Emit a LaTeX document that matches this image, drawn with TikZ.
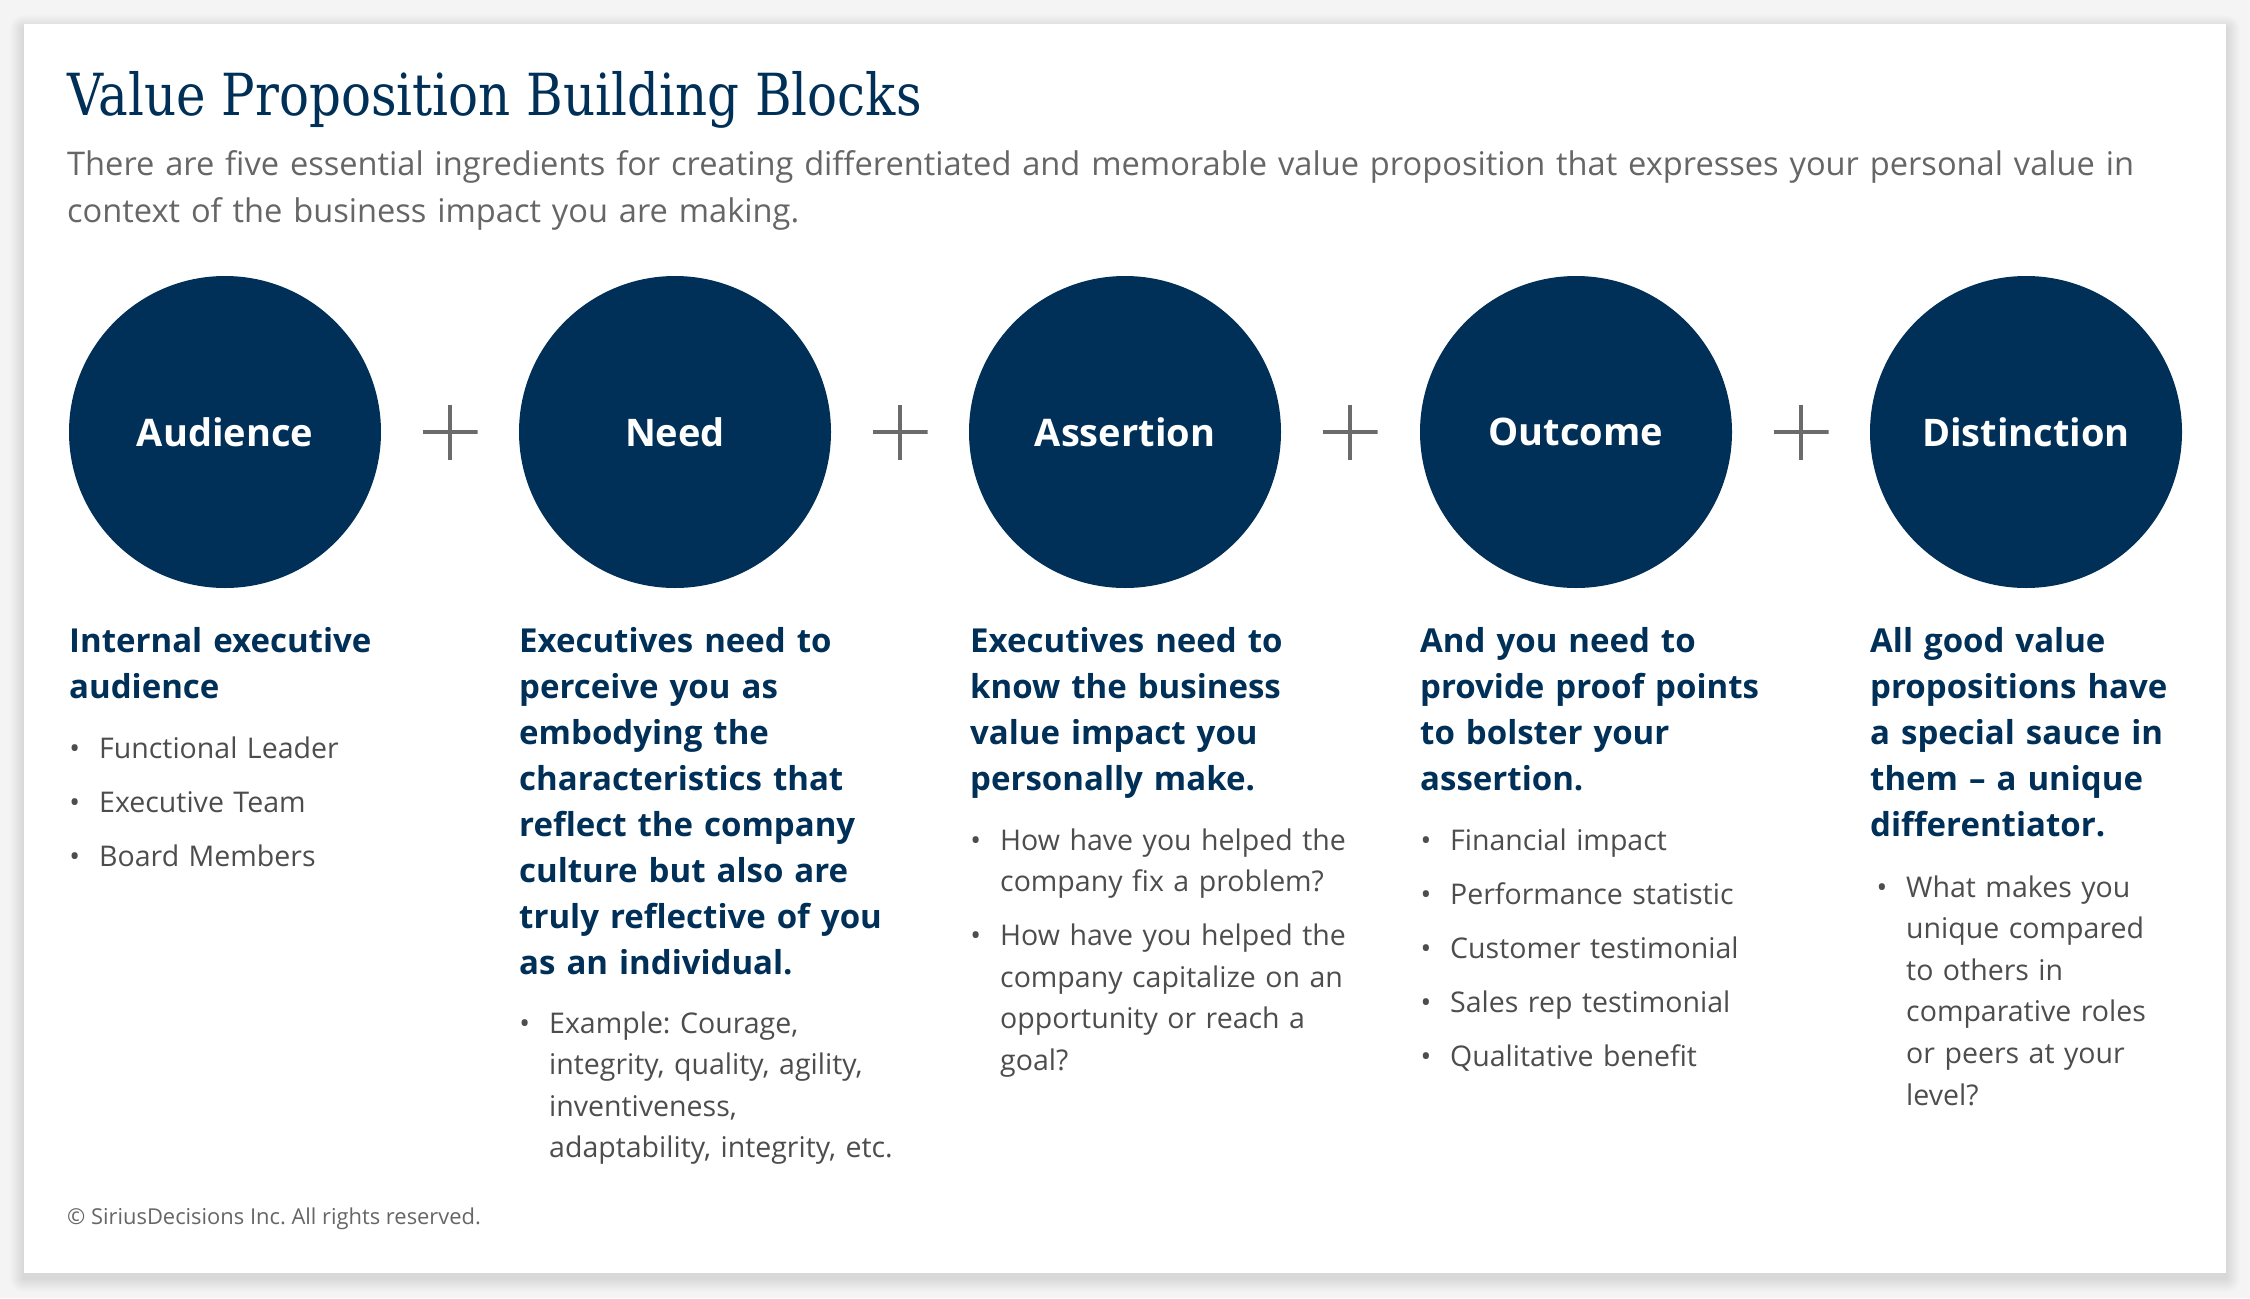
\documentclass[tikz,border=0pt]{standalone}
\usepackage{fontspec}
\setmainfont{Open Sans}
\newfontfamily\titlefont[FakeStretch=0.86]{DejaVu Serif}
\definecolor{navy}{HTML}{003057}
\definecolor{plusgray}{HTML}{6B6B6B}
\definecolor{bodygray}{HTML}{4D4D4D}
\definecolor{subgray}{HTML}{666666}
\definecolor{outerbg}{HTML}{F4F4F4}
\frenchspacing
\newcommand\bl[1]{\noindent\llap{\textbullet\hspace{19pt}}#1\par}
\newcommand\blist[2]{\frenchspacing\leftskip=#1\relax\parskip=12.5pt\relax#2}
\begin{document}
\begin{tikzpicture}[x=1pt,y=-1pt,
  circ/.style={circle, fill=navy, minimum size=312pt, inner sep=0pt, text=white,
    font=\fontsize{38}{46}\selectfont\bfseries},
  plussign/.style={minimum size=55pt, inner sep=0pt,
    path picture={\draw[plusgray, line width=4pt]
      (path picture bounding box.west) -- (path picture bounding box.east)
      (path picture bounding box.north) -- (path picture bounding box.south);}},
  head/.style={anchor=base west, inner sep=0pt, text width=420pt, align=left,
    text=navy, font=\fontsize{33}{46}\selectfont\bfseries},
  body/.style={anchor=base west, inner sep=0pt, text width=420pt, align=left,
    text=bodygray, font=\fontsize{28.5}{41.6}\selectfont},
  plain/.style={anchor=base west, inner sep=0pt}
]
\useasboundingbox (0,0) rectangle (2250,1298);
\fill[outerbg] (0,0) rectangle (2250,1298);
\foreach \i in {1,...,14}
  \fill[black, opacity=0.009, rounded corners=\i pt] (24-\i,24-\i+5) rectangle (2226+\i,1273+\i+5);
\fill[white] (24,24) rectangle (2226,1273);

\node[plain, text=navy, font=\titlefont\fontsize{58}{62}\selectfont] (title) at (67,115)
  {Value Proposition Building Blocks};
\node[plain, text=subgray, text width=2150pt, align=left, font=\fontsize{32.6}{47}\selectfont] (sub) at (67,175)
  {There are five essential ingredients for creating differentiated and memorable value proposition that expresses your personal value in\\context of the business impact you are making.};

\node[circ] (c1) at (225,432) {Audience};
\node[circ] (c2) at (675,432) {Need};
\node[circ] (c3) at (1125,432) {Assertion};
\node[circ] (c4) at (1576,432) {Outcome};
\node[circ] (c5) at (2026,432) {Distinction};

\node[plussign] (p1) at (450,432) {};
\node[plussign] (p2) at (900,432) {};
\node[plussign] (p3) at (1350,432) {};
\node[plussign] (p4) at (1801,432) {};

\node[head] (h1) at (69,652) {Internal executive\\audience};
\node[head] (h2) at (519,652) {Executives need to\\perceive you as\\embodying the\\characteristics that\\reflect the company\\culture but also are\\truly reflective of you\\as an individual.};
\node[head] (h3) at (970,652) {Executives need to\\know the business\\value impact you\\personally make.};
\node[head] (h4) at (1420,652) {And you need to\\provide proof points\\to bolster your\\assertion.};
\node[head] (h5) at (1870,652) {All good value\\propositions have\\a special sauce in\\them – a unique\\differentiator.};

\node[body] (b1) at (69,758) {\blist{30pt}{\bl{Functional Leader}\bl{Executive Team}\bl{Board Members}}};
\node[body] (b2) at (519,1033) {\blist{30pt}{\bl{Example: Courage,\newline integrity, quality, agility,\newline inventiveness,\newline adaptability, integrity, etc.}}};
\node[body] (b3) at (970,850) {\blist{30pt}{\bl{How have you helped the\newline company fix a problem?}\bl{How have you helped the\newline company capitalize on an\newline opportunity or reach a\newline goal?}}};
\node[body] (b4) at (1420,850) {\blist{30pt}{\bl{Financial impact}\bl{Performance statistic}\bl{Customer testimonial}\bl{Sales rep testimonial}\bl{Qualitative benefit}}};
\node[body] (b5) at (1870,897) {\blist{36pt}{\bl{What makes you\newline unique compared\newline to others in\newline comparative roles\newline or peers at your\newline level?}}};

\node[plain, text=subgray, font=\fontsize{21.9}{25}\selectfont] (foot) at (67,1224)
  {© SiriusDecisions Inc. All rights reserved.};
\end{tikzpicture}
\end{document}
